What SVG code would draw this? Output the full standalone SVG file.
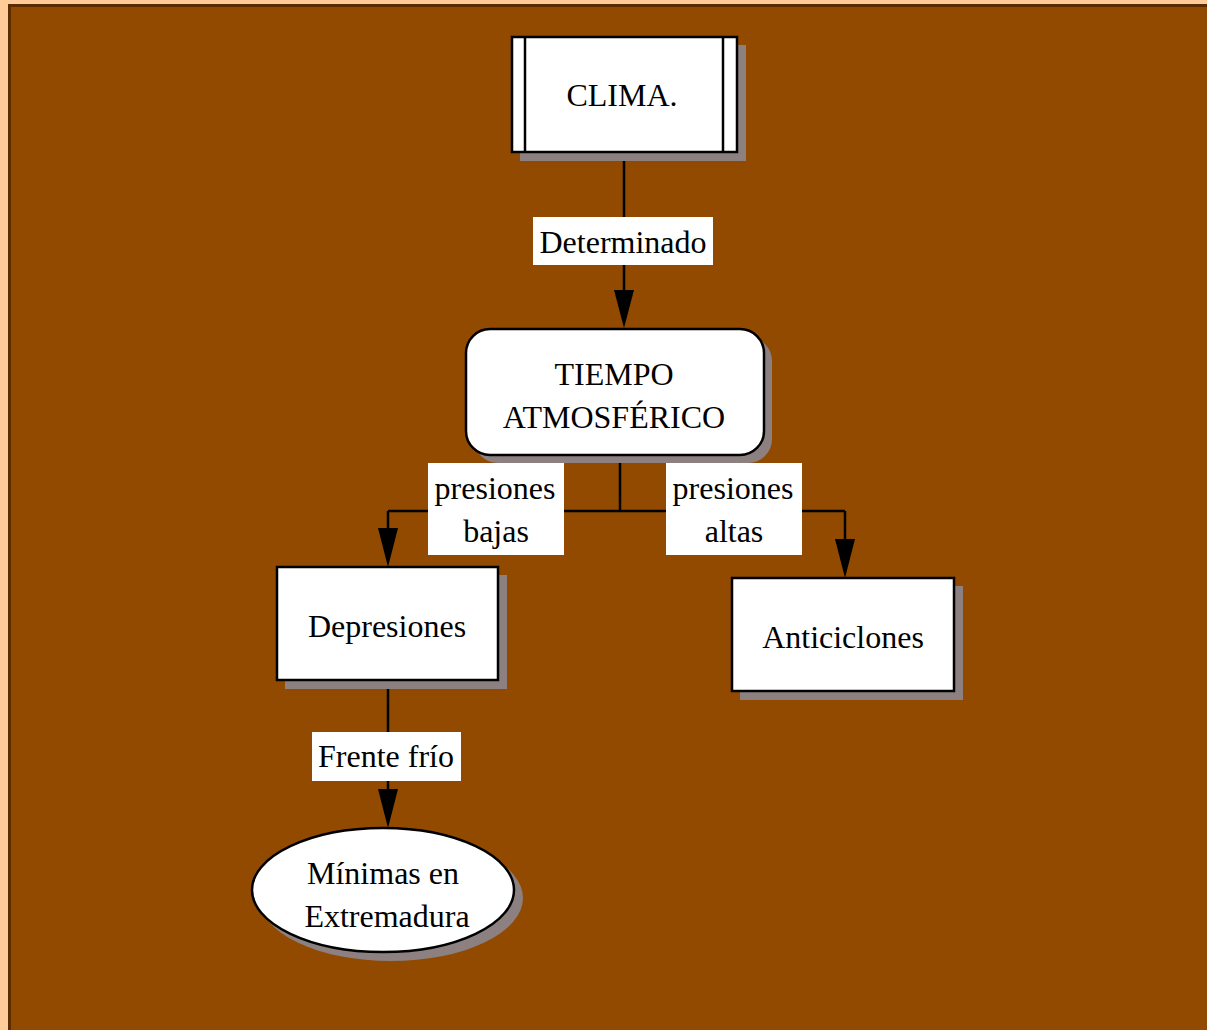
<svg xmlns="http://www.w3.org/2000/svg" width="1207" height="1030" viewBox="0 0 1207 1030">
<defs>
<style>
.t{font-family:'Liberation Serif','Times New Roman',Times,serif;font-size:32px;fill:#000;text-anchor:middle}
.box{fill:#fff;stroke:#000;stroke-width:2.5}
.sh{fill:#8c8080}
.ln{fill:none;stroke:#000;stroke-width:2.5}
.lbl{fill:#fff}
.ah{fill:#000}
</style>
</defs>
<rect x="0" y="0" width="1207" height="1030" fill="#ffcc99"/>
<rect x="8" y="4" width="1199" height="1026" fill="#5a2d00"/>
<rect x="11" y="7" width="1196" height="1023" fill="#914a00"/>

<g id="connectors">
<path class="ln" d="M624,152 V290"/>
<polygon class="ah" points="614,290 634,290 624,328"/>
<path class="ln" d="M620,455 V511 M388,511 H845 M388,511 V530 M845,511 V540"/>
<polygon class="ah" points="378,528 398,528 388,567"/>
<polygon class="ah" points="835,539 855,539 845,578"/>
<path class="ln" d="M388,680 V790"/>
<polygon class="ah" points="378,789 398,789 388,828"/>
<rect class="lbl" x="533" y="217" width="180" height="48"/>
<text class="t" x="623" y="253" font-family="Liberation Serif, serif">Determinado</text>
<rect class="lbl" x="428" y="463" width="136" height="92"/>
<text class="t" x="495" y="499">presiones</text>
<text class="t" x="496" y="542">bajas</text>
<rect class="lbl" x="666" y="463" width="136" height="92"/>
<text class="t" x="733" y="499">presiones</text>
<text class="t" x="734" y="542">altas</text>
<rect class="lbl" x="312" y="732" width="149" height="49"/>
<text class="t" x="386" y="767">Frente frío</text>
</g>

<g id="clima">
<rect class="sh" x="520" y="45" width="226" height="116"/>
<rect class="box" x="512" y="37" width="225" height="115"/>
<path class="ln" d="M525,37 V152 M723,37 V152"/>
<text class="t" x="622" y="106">CLIMA.</text>
</g>

<g id="tiempo">
<rect class="sh" x="474" y="337" width="298" height="126" rx="24"/>
<rect class="box" x="466" y="329" width="298" height="126" rx="24"/>
<text class="t" x="614" y="385">TIEMPO</text>
<text class="t" x="614" y="428">ATMOSFÉRICO</text>
</g>

<g id="depresiones">
<rect class="sh" x="285" y="575" width="222" height="114"/>
<rect class="box" x="277" y="567" width="221" height="113"/>
<text class="t" x="387" y="637">Depresiones</text>
</g>

<g id="anticiclones">
<rect class="sh" x="740" y="586" width="223" height="114"/>
<rect class="box" x="732" y="578" width="222" height="113"/>
<text class="t" x="843" y="648">Anticiclones</text>
</g>

<g id="minimas">
<ellipse class="sh" cx="391" cy="898" rx="132" ry="63"/>
<ellipse class="box" cx="383" cy="890" rx="131" ry="62"/>
<text class="t" x="383" y="884">Mínimas en</text>
<text class="t" x="387" y="927">Extremadura</text>
</g>
</svg>
